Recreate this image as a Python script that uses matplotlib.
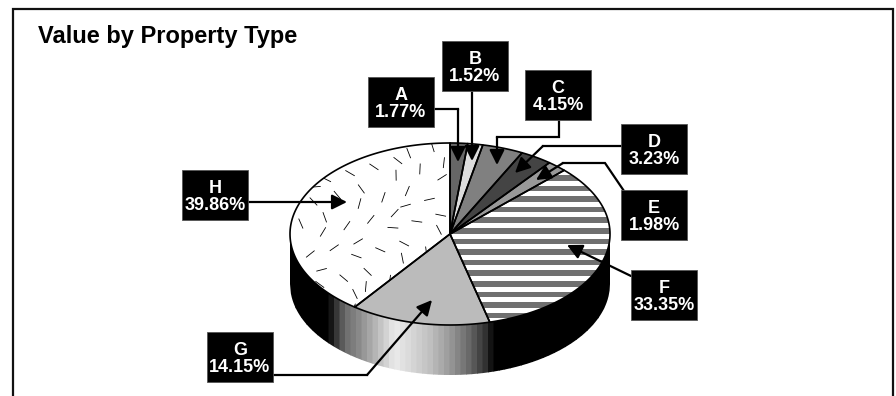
import numpy as np
import matplotlib
matplotlib.use("Agg")
import matplotlib.pyplot as plt
from matplotlib.patches import Polygon, Rectangle

categories = ["A", "B", "C", "D", "E", "F", "G", "H"]
values = [1.77, 1.52, 4.15, 3.23, 1.98, 33.35, 14.15, 39.86]
title = "Value by Property Type"
fills = ["#666666", "#dddddd", "#808080", "#444444", "#999999", "#ffffff", "#bbbbbb", "#ffffff"]

plt.rcParams["font.family"] = ["Liberation Sans", "DejaVu Sans"]
fig = plt.figure(figsize=(8.96, 3.96), dpi=100)
ax = fig.add_axes([0, 0, 1, 1])
ax.set_xlim(0, 896)
ax.set_ylim(396, 0)
ax.axis("off")

CX, CY, RX, RY, DEPTH = 450, 234, 160, 91, 50


def rim(theta):
    """theta in degrees, clockwise from 12 o'clock."""
    t = np.radians(theta)
    return CX + RX * np.sin(t), CY - RY * np.cos(t)


# Side wall: banded shading
stops_x = [290, 328, 334, 345, 360, 380, 395, 410, 430, 450, 470, 486, 494, 610]
stops_g = [0.0, 0.0, 0.15, 0.42, 0.55, 0.76, 0.92, 0.85, 0.75, 0.60, 0.40, 0.18, 0.0, 0.0]
edges = np.arange(290, 610.1, 5.5)
edges[-1] = 610
for x0, x1 in zip(edges[:-1], edges[1:]):
    xs = np.linspace(x0, x1 + 0.6, 8).clip(290, 610)
    lower = CY + RY * np.sqrt(np.clip(1 - ((xs - CX) / RX) ** 2, 0, 1))
    g = float(np.interp((x0 + x1) / 2, stops_x, stops_g))
    pts = np.r_[np.c_[xs, lower], np.c_[xs[::-1], lower[::-1] + DEPTH]]
    ax.add_patch(Polygon(pts, closed=True, fc=str(g), ec="none", zorder=1))
ax.add_patch(Rectangle((290, CY), 320, DEPTH, fc="black", ec="none", zorder=0.5))

# Slices
cum = 0.0
polys = {}
for name, val, col in zip(categories, values, fills):
    a0, a1 = cum * 3.6, (cum + val) * 3.6
    cum += val
    th = np.linspace(a0, a1, max(int(val * 4), 6))
    xs, ys = rim(th)
    pts = np.r_[[[CX, CY]], np.c_[xs, ys]]
    p = Polygon(pts, closed=True, fc=col, ec="none", zorder=2)
    ax.add_patch(p)
    polys[name] = p

# F: horizontal stripes clipped to its slice
for y in np.arange(CY - 59, CY + 95, 10.6):
    r = Rectangle((CX, y), RX + 2, 5.6, fc="#707070", ec="none", zorder=2.1)
    ax.add_patch(r)
    r.set_clip_path(polys["F"])

# H: scattered tick texture clipped to its slice
for i in range(1, 72):
    u = (0.5 + i * 0.7548776662) % 1
    v = (0.5 + i * 0.5698402910) % 1
    ang = np.radians((i * 0.3819660 * 180) % 180)
    x = CX - 162 * u
    y = CY - 94 + 188 * v
    ln, = ax.plot([x - 5 * np.cos(ang), x + 5 * np.cos(ang)],
                  [y - 5 * np.sin(ang), y + 5 * np.sin(ang)],
                  color="black", lw=0.6, zorder=2.1)
    ln.set_clip_path(polys["H"])

# Slice outlines
cum = 0.0
for val in values:
    a0, a1 = cum * 3.6, (cum + val) * 3.6
    cum += val
    th = np.linspace(a0, a1, max(int(val * 4), 6))
    xs, ys = rim(th)
    pts = np.r_[[[CX, CY]], np.c_[xs, ys]]
    ax.add_patch(Polygon(pts, closed=True, fc="none", ec="black", lw=1.2,
                         zorder=3, joinstyle="round"))

# Callout boxes (left, top) and leader paths
boxes = {"A": (368, 77), "B": (442, 41), "C": (525, 70), "D": (621, 124),
         "E": (621, 190), "F": (631, 270), "G": (207, 332), "H": (182, 170)}
leaders = {
    "A": [(434, 109), (458, 109), (458, 162)],
    "B": [(472, 91), (472, 161)],
    "C": [(559, 120), (559, 137), (497, 137), (497, 165)],
    "D": [(621, 146), (543, 146), (515, 173)],
    "E": [(624, 191), (605, 163), (563, 163), (536, 180)],
    "F": [(631, 276), (567, 245)],
    "G": [(273, 375), (367, 375), (432, 300)],
    "H": [(248, 202), (347, 202)],
}
for name, val in zip(categories, values):
    path = leaders[name]
    xs, ys = zip(*path[:-1])
    ax.plot(xs, ys, color="black", lw=1.6, zorder=4, solid_joinstyle="miter")
    ax.annotate("", xy=path[-1], xytext=path[-2], zorder=4,
                arrowprops=dict(arrowstyle="-|>,head_length=0.9,head_width=0.45",
                                color="black", lw=1.6, shrinkA=0, shrinkB=0))
    bx, by = boxes[name]
    ax.add_patch(Rectangle((bx, by), 66, 50, fc="black", ec="#555555", lw=0.6, zorder=5))
    ax.text(bx + 33, by + 27, f"{name}\n{val:.2f}%", color="white", fontsize=13,
            fontweight="bold", ha="center", va="center", linespacing=1.06, zorder=6)

# Frame
ax.plot([12.5, 12.5, 892.5, 892.5], [396, 8.5, 8.5, 396], color="#111111", lw=1.6,
        solid_joinstyle="miter", zorder=7)
ax.text(38.5, 37, title, fontsize=17, fontweight="bold", color="black", ha="left",
        va="center", zorder=7)

fig.savefig("out.png", dpi=100)
